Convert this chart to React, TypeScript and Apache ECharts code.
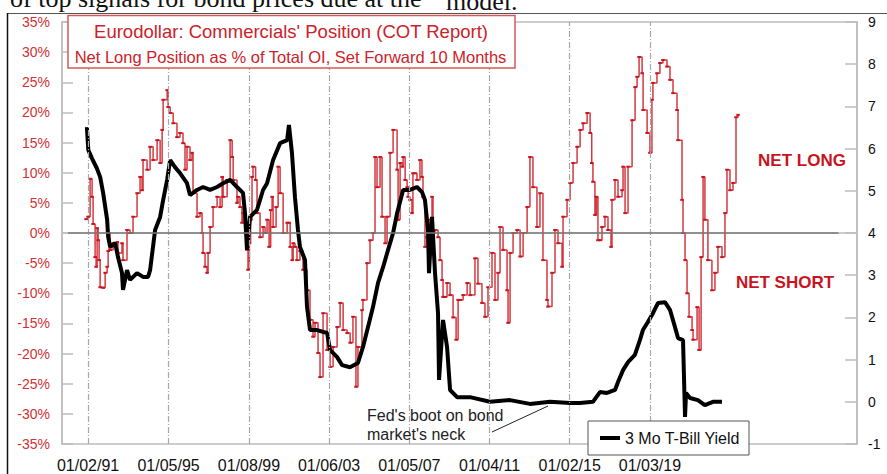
import React, { useEffect, useRef } from 'react';
import * as echarts from 'echarts';

const FONT = '"Liberation Sans", Arial, Helvetica, sans-serif';
const SERIF = '"Liberation Serif", "Times New Roman", serif';

const tickValues = [1991.0, 1995.01, 1999.02, 2003.01, 2007.01, 2011.01, 2015.0, 2019.0];
const tickLabels = ['01/02/91', '01/05/95', '01/08/99', '01/06/03', '01/05/07', '01/04/11', '01/02/15', '01/03/19'];

// Commercials' net long position, % of total open interest (set forward 10 months)
const redYears = [
  1990.9, 1991.0, 1991.1, 1991.2, 1991.25, 1991.35, 1991.4, 1991.45, 1991.5, 1991.55, 1991.6, 1991.75, 1991.85, 1991.95,
  1992.0, 1992.05, 1992.1, 1992.25, 1992.45, 1992.49, 1992.69, 1992.74, 1992.94, 1993.09, 1993.24, 1993.44, 1993.59,
  1993.69, 1993.74, 1993.94, 1994.09, 1994.24, 1994.44, 1994.59, 1994.69, 1994.74, 1994.94, 1994.99, 1995.09, 1995.24,
  1995.43, 1995.58, 1995.73, 1995.83, 1995.93, 1996.08, 1996.18, 1996.23, 1996.43, 1996.58, 1996.68, 1996.73, 1996.83,
  1996.93, 1996.98, 1997.08, 1997.23, 1997.43, 1997.58, 1997.68, 1997.73, 1997.93, 1998.08, 1998.18, 1998.23, 1998.42,
  1998.47, 1998.57, 1998.67, 1998.72, 1998.82, 1998.92, 1998.97, 1999.04, 1999.1, 1999.17, 1999.22, 1999.35, 1999.42,
  1999.57, 1999.72, 1999.82, 1999.92, 2000.02, 2000.1, 2000.17, 2000.22, 2000.37, 2000.47, 2000.57, 2000.72, 2000.92,
  2001.02, 2001.07, 2001.17, 2001.22, 2001.31, 2001.41, 2001.56, 2001.71, 2001.91, 2002.06, 2002.21, 2002.31, 2002.46,
  2002.56, 2002.71, 2002.91, 2003.06, 2003.21, 2003.41, 2003.56, 2003.71, 2003.91, 2004.06, 2004.2, 2004.35, 2004.45,
  2004.65, 2004.7, 2004.9, 2005.05, 2005.2, 2005.3, 2005.4, 2005.55, 2005.65, 2005.8, 2005.9, 2006.05, 2006.2, 2006.4,
  2006.45, 2006.55, 2006.65, 2006.7, 2006.8, 2006.9, 2006.95, 2007.04, 2007.14, 2007.19, 2007.29, 2007.39, 2007.54,
  2007.64, 2007.69, 2007.79, 2007.89, 2007.94, 2008.04, 2008.14, 2008.19, 2008.29, 2008.44, 2008.54, 2008.64, 2008.69,
  2008.79, 2008.89, 2009.04, 2009.19, 2009.34, 2009.44, 2009.54, 2009.69, 2009.89, 2010.04, 2010.28, 2010.43, 2010.63,
  2010.78, 2010.93, 2011.13, 2011.28, 2011.43, 2011.53, 2011.68, 2011.88, 2011.93, 2012.03, 2012.18, 2012.38, 2012.53,
  2012.68, 2012.88, 2013.02, 2013.17, 2013.37, 2013.52, 2013.67, 2013.87, 2013.92, 2014.12, 2014.27, 2014.42, 2014.62,
  2014.67, 2014.87, 2015.02, 2015.17, 2015.37, 2015.52, 2015.67, 2015.87, 2016.02, 2016.1, 2016.16, 2016.26, 2016.33,
  2016.41, 2016.51, 2016.61, 2016.76, 2016.91, 2017.06, 2017.11, 2017.26, 2017.41, 2017.61, 2017.66, 2017.76, 2017.91,
  2018.11, 2018.26, 2018.36, 2018.46, 2018.61, 2018.66, 2018.86, 2019.0, 2019.1, 2019.15, 2019.35, 2019.5, 2019.65,
  2019.85, 2020.0, 2020.15, 2020.35, 2020.4, 2020.6, 2020.65, 2020.75, 2020.85, 2020.95, 2021.1, 2021.15, 2021.35,
  2021.45, 2021.55, 2021.65, 2021.74, 2021.89, 2022.09, 2022.24, 2022.39, 2022.59, 2022.74, 2022.84, 2022.99, 2023.14,
  2023.29, 2023.39,
];
const redPct = [
  2.3, 2.7, 9.0, 6.0, 1.5, -4.0, -5.6, 0.8, -1.2, -4.5, -9.0, -9.1, -6.6, -5.6,
  -3.0, 0.0, -2.8, -1.7, -1.5, -3.3, -1.7, -4.5, 0.5, 0.0, 2.7, 6.6, 9.3,
  7.1, 12.1, 10.5, 14.3, 12.1, 15.4, 11.6, 17.1, 22.1, 23.7, 20.9, 19.9, 18.2,
  15.9, 16.6, 14.9, 10.5, 14.3, 12.1, 13.3, 6.6, 2.7, 3.3, 0.0, -3.3, -5.6,
  -6.6, -3.3, 1.0, 4.3, 6.0, 4.3, 9.3, 6.0, 8.8, 15.4, 12.6, 8.8, 5.0,
  6.0, 4.3, 1.7, 3.3, 0.0, -2.8, -6.1, -1.7, 2.2, 9.3, 11.0, 8.8, 3.3,
  -0.7, 1.0, 0.0, 2.2, -2.3, 3.8, 6.0, 1.0, 4.3, 11.0, 6.6, 0.0, 1.7,
  1.7, -2.3, -4.5, -1.7, -2.3, -4.5, -3.0, -6.1, -9.5, -14.4, -17.2, -14.9, -19.9,
  -23.9, -13.3, -19.4, -22.2, -18.9, -15.6, -11.6, -16.1, -16.6, -18.2, -13.9, -25.5, -18.9,
  -12.8, -11.1, -5.0, -1.2, 0.0, 12.6, 7.6, 12.6, 2.7, -1.7, 2.7, 13.3, 17.1, 10.5,
  2.2, 11.6, 11.0, 12.6, 8.8, 7.6, 6.0, 5.5, 3.3, 9.9, 9.9, 8.8, 12.1,
  9.3, 6.0, -2.3, -0.7, 0.5, 2.2, 6.0, 0.0, 0.5, -0.7, -4.5, -7.8, -10.6,
  -10.6, -8.3, -10.3, -14.0, -17.7, -11.1, -11.1, -10.3, -8.3, -10.3, -4.2, -8.4, -11.6,
  -13.9, -9.0, -3.3, -11.1, -6.6, 1.0, -2.8, -9.5, -14.9, -3.3, 0.0, 0.5, -3.9,
  0.0, 4.3, 12.6, 7.6, 1.0, 6.6, -4.5, -11.1, -12.2, -6.6, 0.5, -1.7, -5.6,
  2.7, 5.5, 8.3, 11.6, 14.3, 17.1, 18.2, 19.9, 16.6, 11.6, 8.5, 3.0, 6.0,
  -1.2, -1.2, 1.0, 2.7, 0.5, -2.3, 5.5, 8.8, 6.0, 7.1, 11.0, 3.3, 11.0,
  18.7, 24.2, 25.9, 29.2, 26.5, 20.4, 16.6, 13.3, 22.1, 24.9, 26.5, 28.2, 28.7,
  27.6, 25.4, 23.2, 20.4, 15.4, 5.5, 0.0, -4.5, -10.0, -13.9, -16.1, -17.7, -12.3,
  -19.4, -4.0, 9.3, 2.2, -4.5, -9.5, -6.6, -2.3, -4.0, 3.3, 10.5, 7.1, 8.3,
  19.2, 19.6,
];

// 3-month T-Bill yield (right axis)
const billYears = [
  1990.94, 1991.01, 1991.18, 1991.43, 1991.6, 1991.75, 1991.95, 1992.0, 1992.1, 1992.35, 1992.49, 1992.69, 1992.74,
  1992.94, 1993.09, 1993.44, 1993.74, 1993.99, 1994.09, 1994.34, 1994.59, 1994.74, 1994.94, 1995.09, 1995.33, 1995.58,
  1995.93, 1996.08, 1996.43, 1996.73, 1997.08, 1997.43, 1997.73, 1998.08, 1998.42, 1998.72, 1998.82, 1998.92, 1999.07,
  1999.42, 1999.72, 1999.92, 2000.22, 2000.57, 2000.92, 2001.01, 2001.16, 2001.31, 2001.46, 2001.56, 2001.81, 2001.91,
  2002.06, 2002.41, 2002.91, 2003.06, 2003.41, 2003.66, 2004.05, 2004.45, 2004.7, 2004.95, 2005.2, 2005.45, 2005.7,
  2005.95, 2006.2, 2006.4, 2006.7, 2007.04, 2007.39, 2007.64, 2007.79, 2007.94, 2007.99, 2008.14, 2008.29, 2008.44,
  2008.49, 2008.69, 2008.89, 2009.04, 2009.39, 2010.03, 2011.03, 2012.03, 2013.02, 2014.02, 2015.02, 2015.51, 2016.16,
  2016.51, 2016.86, 2017.26, 2017.41, 2017.66, 2017.91, 2018.25, 2018.5, 2018.65, 2018.9, 2019.15, 2019.4, 2019.75,
  2020.0, 2020.25, 2020.4, 2020.65, 2020.75, 2020.8, 2021.0, 2021.39, 2021.74, 2022.14, 2022.59,
];
const billYield = [
  6.51, 5.97, 5.78, 5.54, 5.33, 4.95, 4.31, 3.91, 3.67, 3.76, 3.43, 3.05, 2.65,
  3.12, 2.89, 3.05, 2.96, 2.96, 3.12, 4.07, 4.38, 4.78, 5.26, 5.73, 5.56, 5.42,
  5.18, 4.9, 5.02, 5.09, 5.02, 5.09, 5.18, 5.26, 5.09, 4.95, 4.47, 3.6, 4.38,
  4.55, 5.02, 5.18, 5.73, 6.13, 6.2, 6.56, 5.9, 4.85, 4.07, 3.67, 3.36, 2.25,
  1.7, 1.7, 1.63, 1.23, 1.06, 0.87, 0.82, 0.92, 1.3, 1.77, 2.25, 2.82, 3.19,
  3.6, 4.0, 4.47, 5.02, 5.02, 5.09, 4.97, 4.78, 4.07, 3.05, 4.38, 3.05, 2.1,
  0.52, 1.94, 1.3, 0.28, 0.11, 0.11, 0.0, 0.04, -0.05, 0.0, -0.03, -0.03, 0.0,
  0.23, 0.21, 0.28, 0.47, 0.75, 0.94, 1.11, 1.46, 1.7, 1.89, 2.1, 2.34, 2.36,
  2.18, 1.77, 1.51, 1.46, -0.36, 0.21, 0.09, 0.04, -0.08, 0.0, 0.0,
];

const RED = '#c8141e';
const LABEL_RED = '#d03232';
const AXIS_GRAY = '#bdbdbd';

export default function App() {
  const ref = useRef<HTMLDivElement>(null);

  useEffect(() => {
    if (!ref.current) return;
    const chart = echarts.init(ref.current, null, { renderer: 'svg' });
    const xFmt = (v: number) => {
      const i = tickValues.findIndex((t) => Math.abs(t - v) < 0.005);
      return i >= 0 ? tickLabels[i] : '';
    };
    chart.setOption({
      animation: false,
      backgroundColor: '#ffffff',
      textStyle: { fontFamily: FONT },
      grid: {
        left: 62,
        right: 30,
        top: 22,
        bottom: 30,
        show: true,
        borderColor: AXIS_GRAY,
        borderWidth: 1.5,
        backgroundColor: 'transparent',
        outerBoundsMode: 'none',
      },
      legend: {
        data: [{ name: '3 Mo T-Bill Yield', icon: 'rect' }],
        left: 588,
        top: 421,
        orient: 'horizontal',
        padding: [9, 9, 9, 12],
        itemWidth: 20,
        itemHeight: 4,
        itemGap: 5,
        textStyle: { fontSize: 16, color: '#111', fontFamily: FONT },
        borderColor: '#555',
        borderWidth: 1,
        backgroundColor: '#ffffff',
        z: 20,
      },
      xAxis: {
        type: 'value',
        min: 1989.7,
        max: 2029.32,
        axisLine: { show: true, lineStyle: { color: AXIS_GRAY, width: 1.5 } },
        axisTick: { show: false },
        splitLine: { show: false },
        axisLabel: {
          customValues: tickValues,
          formatter: xFmt,
          fontSize: 16,
          color: '#111',
          margin: 13,
          fontFamily: FONT,
        },
      },
      yAxis: [
        {
          type: 'value',
          min: -35,
          max: 35,
          interval: 5,
          position: 'left',
          axisLine: { show: true, lineStyle: { color: AXIS_GRAY, width: 1.5 } },
          axisTick: { show: true, inside: true, length: 11, lineStyle: { color: AXIS_GRAY, width: 1.5 } },
          splitLine: { show: false },
          axisLabel: { formatter: '{value}%', color: LABEL_RED, fontSize: 14, margin: 12, fontFamily: FONT },
        },
        {
          type: 'value',
          min: -1,
          max: 9,
          interval: 1,
          position: 'right',
          axisLine: { show: true, lineStyle: { color: AXIS_GRAY, width: 1.5 } },
          axisTick: { show: true, inside: true, length: 12, lineStyle: { color: AXIS_GRAY, width: 1.5 } },
          splitLine: { show: false },
          axisLabel: { color: '#111', fontSize: 14, margin: 11, fontFamily: FONT },
        },
      ],
      series: [
        {
          name: 'grid-helper',
          type: 'line',
          data: [[1991, 0]],
          symbol: 'none',
          lineStyle: { width: 0 },
          silent: true,
          z: 1,
          markLine: {
            silent: true,
            symbol: 'none',
            label: { show: false },
            lineStyle: { color: '#a8a8a8', width: 1.2, type: [6, 2, 1, 2] },
            data: tickValues.map((v) => ({ xAxis: v })),
          },
        },
        {
          name: 'zero-helper',
          type: 'line',
          data: [[1991, 0]],
          symbol: 'none',
          lineStyle: { width: 0 },
          silent: true,
          z: 2,
          markLine: {
            silent: true,
            symbol: 'none',
            label: { show: false },
            lineStyle: { color: '#7a7a7a', width: 1.5, type: 'solid' },
            data: [[{ coord: [1990.0, 0] }, { coord: [2028.4, 0] }]],
          },
        },
        {
          name: 'Net Long %',
          type: 'line',
          data: redYears.map((y, i) => [y, redPct[i]]),
          step: 'end',
          symbol: 'rect',
          symbolSize: [3.5, 2],
          showSymbol: true,
          itemStyle: { color: RED },
          lineStyle: { color: 'rgba(204,22,32,0.85)', width: 1.5 },
          z: 3,
        },
        {
          name: '3 Mo T-Bill Yield',
          type: 'line',
          yAxisIndex: 1,
          data: billYears.map((y, i) => [y, billYield[i]]),
          symbol: 'none',
          itemStyle: { color: '#000' },
          lineStyle: { color: '#000', width: 4 },
          z: 4,
        },
      ],
      graphic: [
        {
          type: 'text',
          x: 10,
          y: -1.6,
          style: {
            text: 'of top signals for bond prices due at the',
            fontSize: 26,
            fontFamily: SERIF,
            fill: '#111',
            align: 'left',
            verticalAlign: 'middle',
          },
        },
        {
          type: 'text',
          x: 446,
          y: 1.4,
          style: { text: 'model.', fontSize: 26, fontFamily: SERIF, fill: '#111', align: 'left', verticalAlign: 'middle' },
        },
        { type: 'line', shape: { x1: 7, y1: 13.5, x2: 887, y2: 13.5 }, style: { stroke: '#555', lineWidth: 1 } },
        { type: 'line', shape: { x1: 7.5, y1: 13, x2: 7.5, y2: 474 }, style: { stroke: '#111', lineWidth: 1.5 } },
        {
          type: 'rect',
          z: 50,
          shape: { x: 68, y: 15.5, width: 447, height: 52.5 },
          style: { fill: '#fff', stroke: '#d45a5a', lineWidth: 1.5 },
        },
        {
          type: 'text',
          z: 51,
          x: 291,
          y: 31.4,
          style: {
            text: "Eurodollar: Commercials' Position (COT Report)",
            fontSize: 18.5,
            fontFamily: FONT,
            fill: '#cc2229',
            align: 'center',
            verticalAlign: 'middle',
          },
        },
        {
          type: 'text',
          z: 51,
          x: 290.5,
          y: 56.6,
          style: {
            text: 'Net Long Position as % of Total OI, Set Forward 10 Months',
            fontSize: 16.5,
            fontFamily: FONT,
            fill: '#cc2229',
            align: 'center',
            verticalAlign: 'middle',
          },
        },
        {
          type: 'text',
          z: 30,
          x: 802,
          y: 160,
          style: { text: 'NET LONG', fontSize: 17, fontWeight: 'bold', fontFamily: FONT, fill: RED, align: 'center', verticalAlign: 'middle' },
        },
        {
          type: 'text',
          z: 30,
          x: 785,
          y: 282,
          style: { text: 'NET SHORT', fontSize: 17, fontWeight: 'bold', fontFamily: FONT, fill: RED, align: 'center', verticalAlign: 'middle' },
        },
        {
          type: 'text',
          z: 30,
          x: 367,
          y: 415,
          style: { text: "Fed's boot on bond", fontSize: 16, fontFamily: FONT, fill: '#222', align: 'left', verticalAlign: 'middle' },
        },
        {
          type: 'text',
          z: 30,
          x: 367,
          y: 434.5,
          style: { text: "market's neck", fontSize: 16, fontFamily: FONT, fill: '#222', align: 'left', verticalAlign: 'middle' },
        },
        { type: 'line', z: 30, shape: { x1: 492, y1: 432, x2: 548, y2: 406 }, style: { stroke: '#222', lineWidth: 1 } },
      ],
    });
    return () => chart.dispose();
  }, []);

  return (
    <div
      ref={ref}
      style={{ position: 'fixed', left: 0, top: 0, width: 887, height: 474, background: '#fff' }}
    />
  );
}
